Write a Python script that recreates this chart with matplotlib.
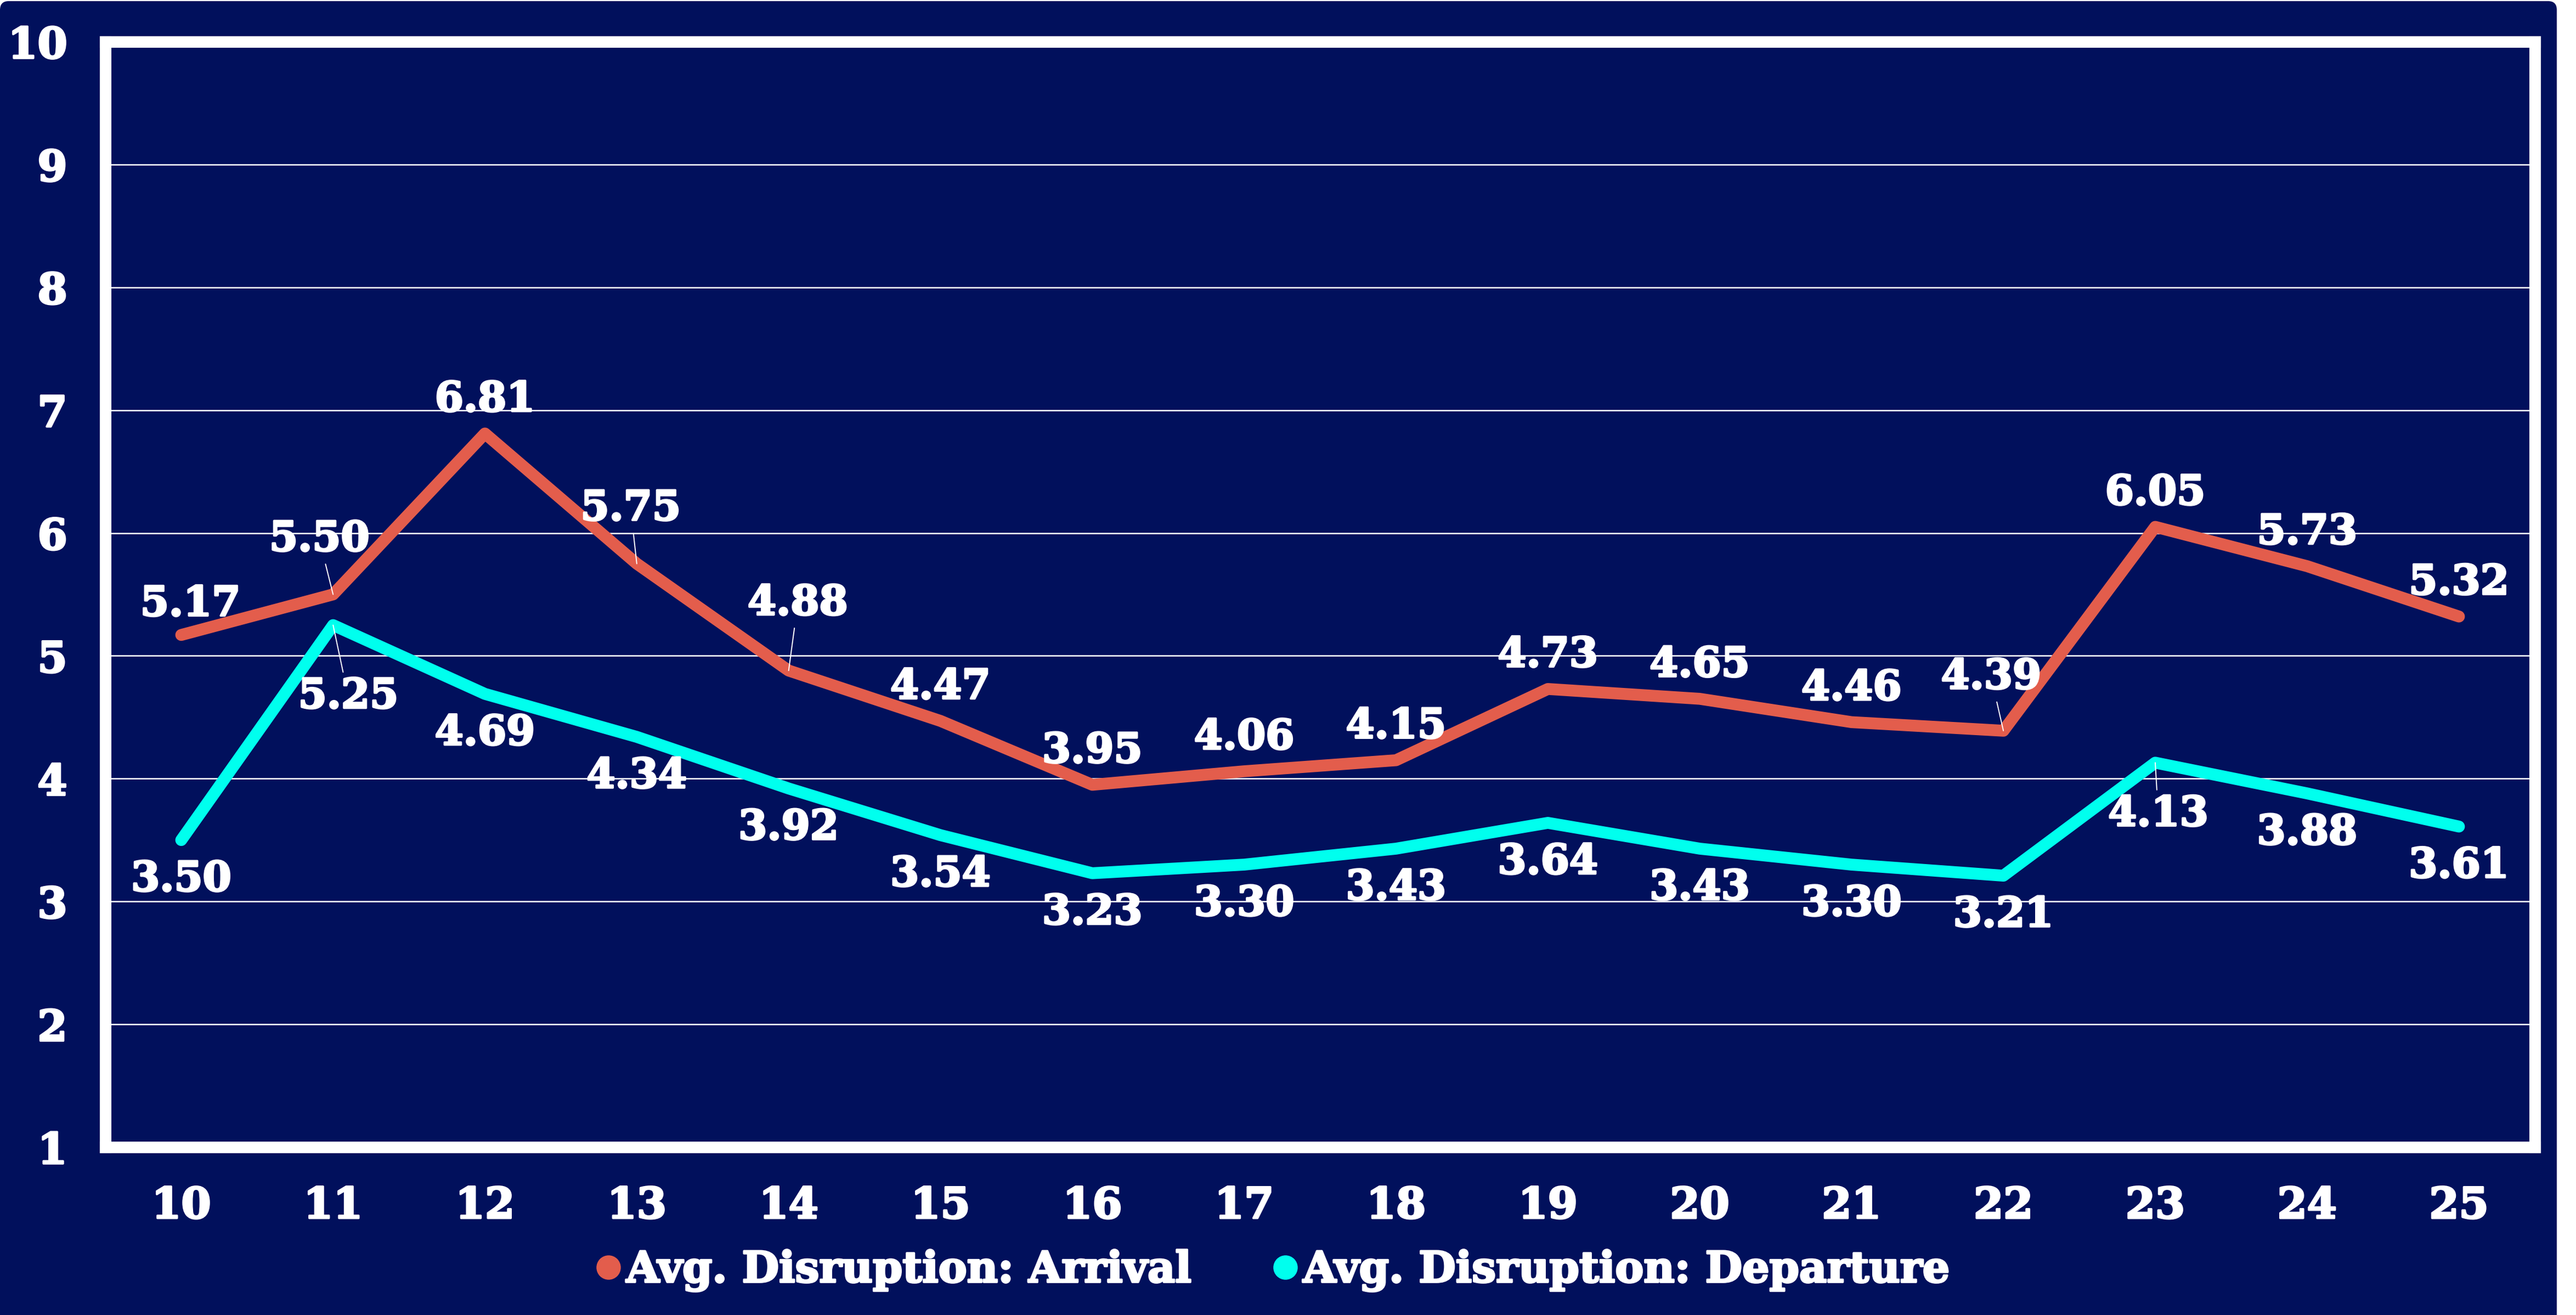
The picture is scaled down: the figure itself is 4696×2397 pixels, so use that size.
import matplotlib
matplotlib.use("Agg")
import matplotlib.pyplot as plt
import matplotlib.patheffects as pe
from matplotlib.patches import FancyBboxPatch
from matplotlib.lines import Line2D

# ---- data ----
categories = ["10", "11", "12", "13", "14", "15", "16", "17", "18", "19",
              "20", "21", "22", "23", "24", "25"]
arrival = [5.17, 5.50, 6.81, 5.75, 4.88, 4.47, 3.95, 4.06, 4.15, 4.73,
           4.65, 4.46, 4.39, 6.05, 5.73, 5.32]
departure = [3.50, 5.25, 4.69, 4.34, 3.92, 3.54, 3.23, 3.30, 3.43, 3.64,
             3.43, 3.30, 3.21, 4.13, 3.88, 3.61]
series_names = ["Avg. Disruption: Arrival", "Avg. Disruption: Departure"]
y_ticks = [1, 2, 3, 4, 5, 6, 7, 8, 9, 10]

# ---- style ----
NAVY = "#01105C"
RED = "#E35D4C"
CYAN = "#00FFEE"
FONT = "DejaVu Serif"
BOLDER = [pe.withStroke(linewidth=1.3, foreground="white")]

# label offsets in points (dx, dy); defaults otherwise
arr_default = (0, 22)
dep_default = (0, -26)
arr_offsets = {0: (6, 20), 1: (-9, 36), 3: (-4, 36), 4: (6, 44), 12: (-8, 35)}
dep_offsets = {1: (10, -47), 13: (2, -34)}
leaders_arr = {1, 3, 4, 12}
leaders_dep = {1, 13}

W, H, DPI = 4696, 2397, 200
fig = plt.figure(figsize=(W / DPI, H / DPI), dpi=DPI)
fig.patch.set_facecolor("white")

# rounded navy background
bg = FancyBboxPatch((0, -0.2), 4661 / DPI, (H - 2) / DPI + 0.2,
                    boxstyle="round,pad=0,rounding_size=0.08",
                    transform=fig.dpi_scale_trans, facecolor=NAVY,
                    edgecolor="none", zorder=-10)
fig.patches.append(bg)

ax = fig.add_axes([192 / W, 1 - 2091 / H, (4621 - 192) / W, (2091 - 76) / H])
ax.set_facecolor(NAVY)

x = list(range(len(categories)))
ax.plot(x, arrival, color=RED, lw=7.8, solid_capstyle="round",
        solid_joinstyle="round", zorder=3)
ax.plot(x, departure, color=CYAN, lw=7.8, solid_capstyle="round",
        solid_joinstyle="round", zorder=3)

ax.set_xlim(-0.5, len(categories) - 0.5)
ax.set_ylim(1, 10)
ax.set_yticks(y_ticks)
ax.set_xticks(x)
ax.set_xticklabels(categories)
ax.grid(axis="y", color="white", lw=0.9, zorder=1)
ax.grid(axis="x", visible=False)
ax.set_axisbelow(True)
for s in ax.spines.values():
    s.set_color("white")
    s.set_linewidth(7.6)
    s.set_capstyle("projecting")
    s.set_zorder(6)

ax.tick_params(axis="both", length=0, colors="white", labelsize=28)
ax.tick_params(axis="y", pad=25)
ax.tick_params(axis="x", pad=25)
for lab in ax.get_xticklabels() + ax.get_yticklabels():
    lab.set_fontfamily(FONT)
    lab.set_fontweight("bold")
    lab.set_color("white")
    lab.set_path_effects(BOLDER)


def label(i, v, off, leader):
    kw = dict(textcoords="offset points", ha="center", va="center",
              fontsize=27, fontweight="bold", fontfamily=FONT,
              color="white", zorder=5, path_effects=BOLDER)
    if leader:
        kw["arrowprops"] = dict(arrowstyle="-", color="white", lw=0.7,
                                shrinkA=1, shrinkB=0)
    ax.annotate(f"{v:.2f}", xy=(i, v), xytext=off, **kw)


for i, v in enumerate(arrival):
    label(i, v, arr_offsets.get(i, arr_default), i in leaders_arr)
for i, v in enumerate(departure):
    label(i, v, dep_offsets.get(i, dep_default), i in leaders_dep)

handles = [Line2D([], [], ls="none", marker="o", ms=15, color=RED),
           Line2D([], [], ls="none", marker="o", ms=15, color=CYAN)]
leg = fig.legend(handles, series_names, loc="center",
                 bbox_to_anchor=(0.494, 0.034), ncol=2, frameon=False,
                 handlelength=0.6, handletextpad=0.12, columnspacing=1.9,
                 prop={"family": FONT, "weight": "bold", "size": 28})
for t in leg.get_texts():
    t.set_color("white")
    t.set_path_effects(BOLDER)

fig.savefig("out.png", dpi=DPI, facecolor=fig.get_facecolor())
